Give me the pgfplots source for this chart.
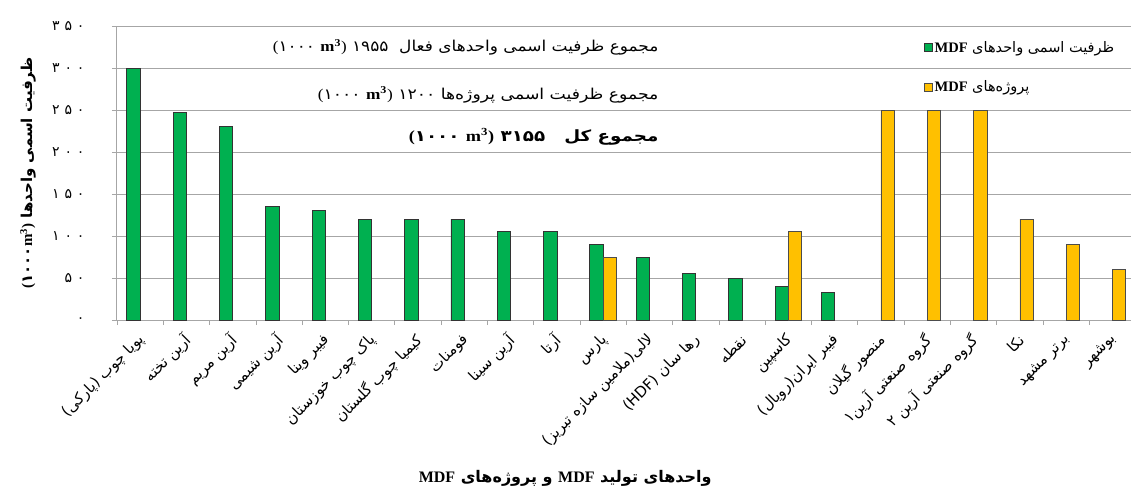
\documentclass[border=0pt]{standalone}
\usepackage{pgfplots}
\pgfplotsset{compat=1.18}
\usepackage{fontspec}
\setmainfont{Liberation Serif}
\newfontfamily\fa[Script=Arabic]{DejaVu Sans}
\newfontfamily\fadig[LetterSpace=35]{DejaVu Sans}
\TeXXeTstate=1
\definecolor{mgreen}{HTML}{00B050}
\definecolor{myellow}{HTML}{FFC000}
\definecolor{gridgray}{HTML}{A6A6A6}
\newcommand{\M}{{\rmfamily\bfseries MDF}}
\newcommand{\U}{\beginL{\rmfamily(}{\fa ۱۰۰۰} {\rmfamily\bfseries m\textsuperscript{3}}{\rmfamily)}\endL}
\newcommand{\UB}{\beginL{\rmfamily\bfseries(}{\fa\bfseries ۱۰۰۰} {\rmfamily\bfseries m\textsuperscript{3}}{\rmfamily\bfseries)}\endL}
\begin{document}
\begin{tikzpicture}
\path[use as bounding box] (-117pt,-178pt) rectangle (1014pt,320pt);
\begin{axis}[
  scale only axis, width=1014pt, height=294pt,
  xmin=0.5, xmax=22.4, ymin=0, ymax=350,
  axis x line*=bottom, axis y line*=left,
  axis line style={-, draw=gridgray, line width=1pt},
  tick align=outside,
  major tick length=5pt,
  tick style={draw=gridgray, line width=0.8pt},
  ymajorgrids, grid style={draw=gridgray, line width=0.9pt},
  ytick={0,50,100,150,200,250,300,350},
  yticklabels={۰,۵۰,۱۰۰,۱۵۰,۲۰۰,۲۵۰,۳۰۰,۳۵۰},
  yticklabel style={font=\fadig\fontsize{14}{16}\selectfont, anchor=east, xshift=-24pt},
  xtick={0.5,1.5,...,21.5}, xticklabels={},
  extra x ticks={1,2,...,22},
  extra x tick labels={
    {\beginR پویا چوب (پارکی)\endR},
    {\beginR آرین تخته\endR},
    {\beginR آرین مریم\endR},
    {\beginR آرین شیمی\endR},
    {\beginR فیبر وینا\endR},
    {\beginR پاک چوب خوزستان\endR},
    {\beginR کیمیا چوب گلستان\endR},
    {\beginR فومنات\endR},
    {\beginR آرین سینا\endR},
    {\beginR آرتا\endR},
    {\beginR پارس\endR},
    {\beginR لالی(ملامین سازه تبریز)\endR},
    {\beginR رها سان (HDF)\endR},
    {\beginR نقطه\endR},
    {\beginR کاسپین\endR},
    {\beginR فیبر ایران(رویال)\endR},
    {\beginR منصور گیلان\endR},
    {\beginR گروه صنعتی آرین۱\endR},
    {\beginR گروه صنعتی آرین ۲\endR},
    {\beginR نکا\endR},
    {\beginR برتر مشهد\endR},
    {\beginR بوشهر\endR}},
  extra x tick style={major tick length=0pt, xticklabel style={font=\fa\fontsize{15}{17}\selectfont, rotate=45, anchor=east, xshift=-8pt, yshift=-13.5pt}},
  ylabel={\fa\bfseries\beginR ظرفیت اسمی واحدها \beginL{\rmfamily(}۱۰۰۰{\rmfamily m\textsuperscript{3})}\endL\endR},
  every axis y label/.style={at={(axis description cs:-0.0878,0.5)}, rotate=90, anchor=center, font=\fontsize{15}{17}\selectfont},
  xlabel={\fa\bfseries\beginR واحدهای تولید \M{} و پروژه‌های \M\endR},
  every axis x label/.style={at={(axis description cs:0.442,-0.537)}, anchor=center, font=\fontsize{16}{18}\selectfont},
  legend style={at={(rel axis cs:0.793,0.962)}, anchor=north west, draw=none, fill=none, row sep=23pt, font=\fontsize{14.5}{17}\selectfont, cells={anchor=west}},
  legend image code/.code={\draw[#1, bar shift=0pt] (0pt,-3.8pt) rectangle (7.6pt,3.8pt);},
  clip=false,
]
\addplot[ybar, bar width=0.288, bar shift=-0.144, fill=mgreen, draw=black!80, line width=0.7pt] coordinates {
  (1,300) (2,247) (3,230) (4,135) (5,130) (6,120) (7,120) (8,120)
  (9,105) (10,105) (11,90) (12,75) (13,55) (14,50) (15,40) (16,33)};
\addlegendentry{\fa\beginR ظرفیت اسمی واحدهای \M\endR}
\addplot[ybar, bar width=0.288, bar shift=0.144, fill=myellow, draw=black!70, line width=0.7pt] coordinates {
  (11,75) (15,105) (17,250) (18,250) (19,250) (20,120) (21,90) (22,60)};
\addlegendentry{\fa\beginR پروژه‌های \M\endR}
\node[anchor=east, font=\fontsize{15}{17}\selectfont] at (axis cs:12.27,325) {\scalebox{1.13}[1]{\fa\beginR مجموع ظرفیت اسمی واحدهای فعال\ \ ۱۹۵۵ \U\endR}};
\node[anchor=east, font=\fontsize{15}{17}\selectfont] at (axis cs:12.27,268) {\scalebox{1.15}[1]{\fa\beginR مجموع ظرفیت اسمی پروژه‌ها ۱۲۰۰ \U\endR}};
\node[anchor=east, font=\fontsize{15.5}{17}\selectfont] at (axis cs:12.27,218) {\scalebox{1.18}[1]{\fa\bfseries\beginR مجموع کل\ \ \ ۳۱۵۵ \UB\endR}};
\end{axis}
\end{tikzpicture}
\end{document}
